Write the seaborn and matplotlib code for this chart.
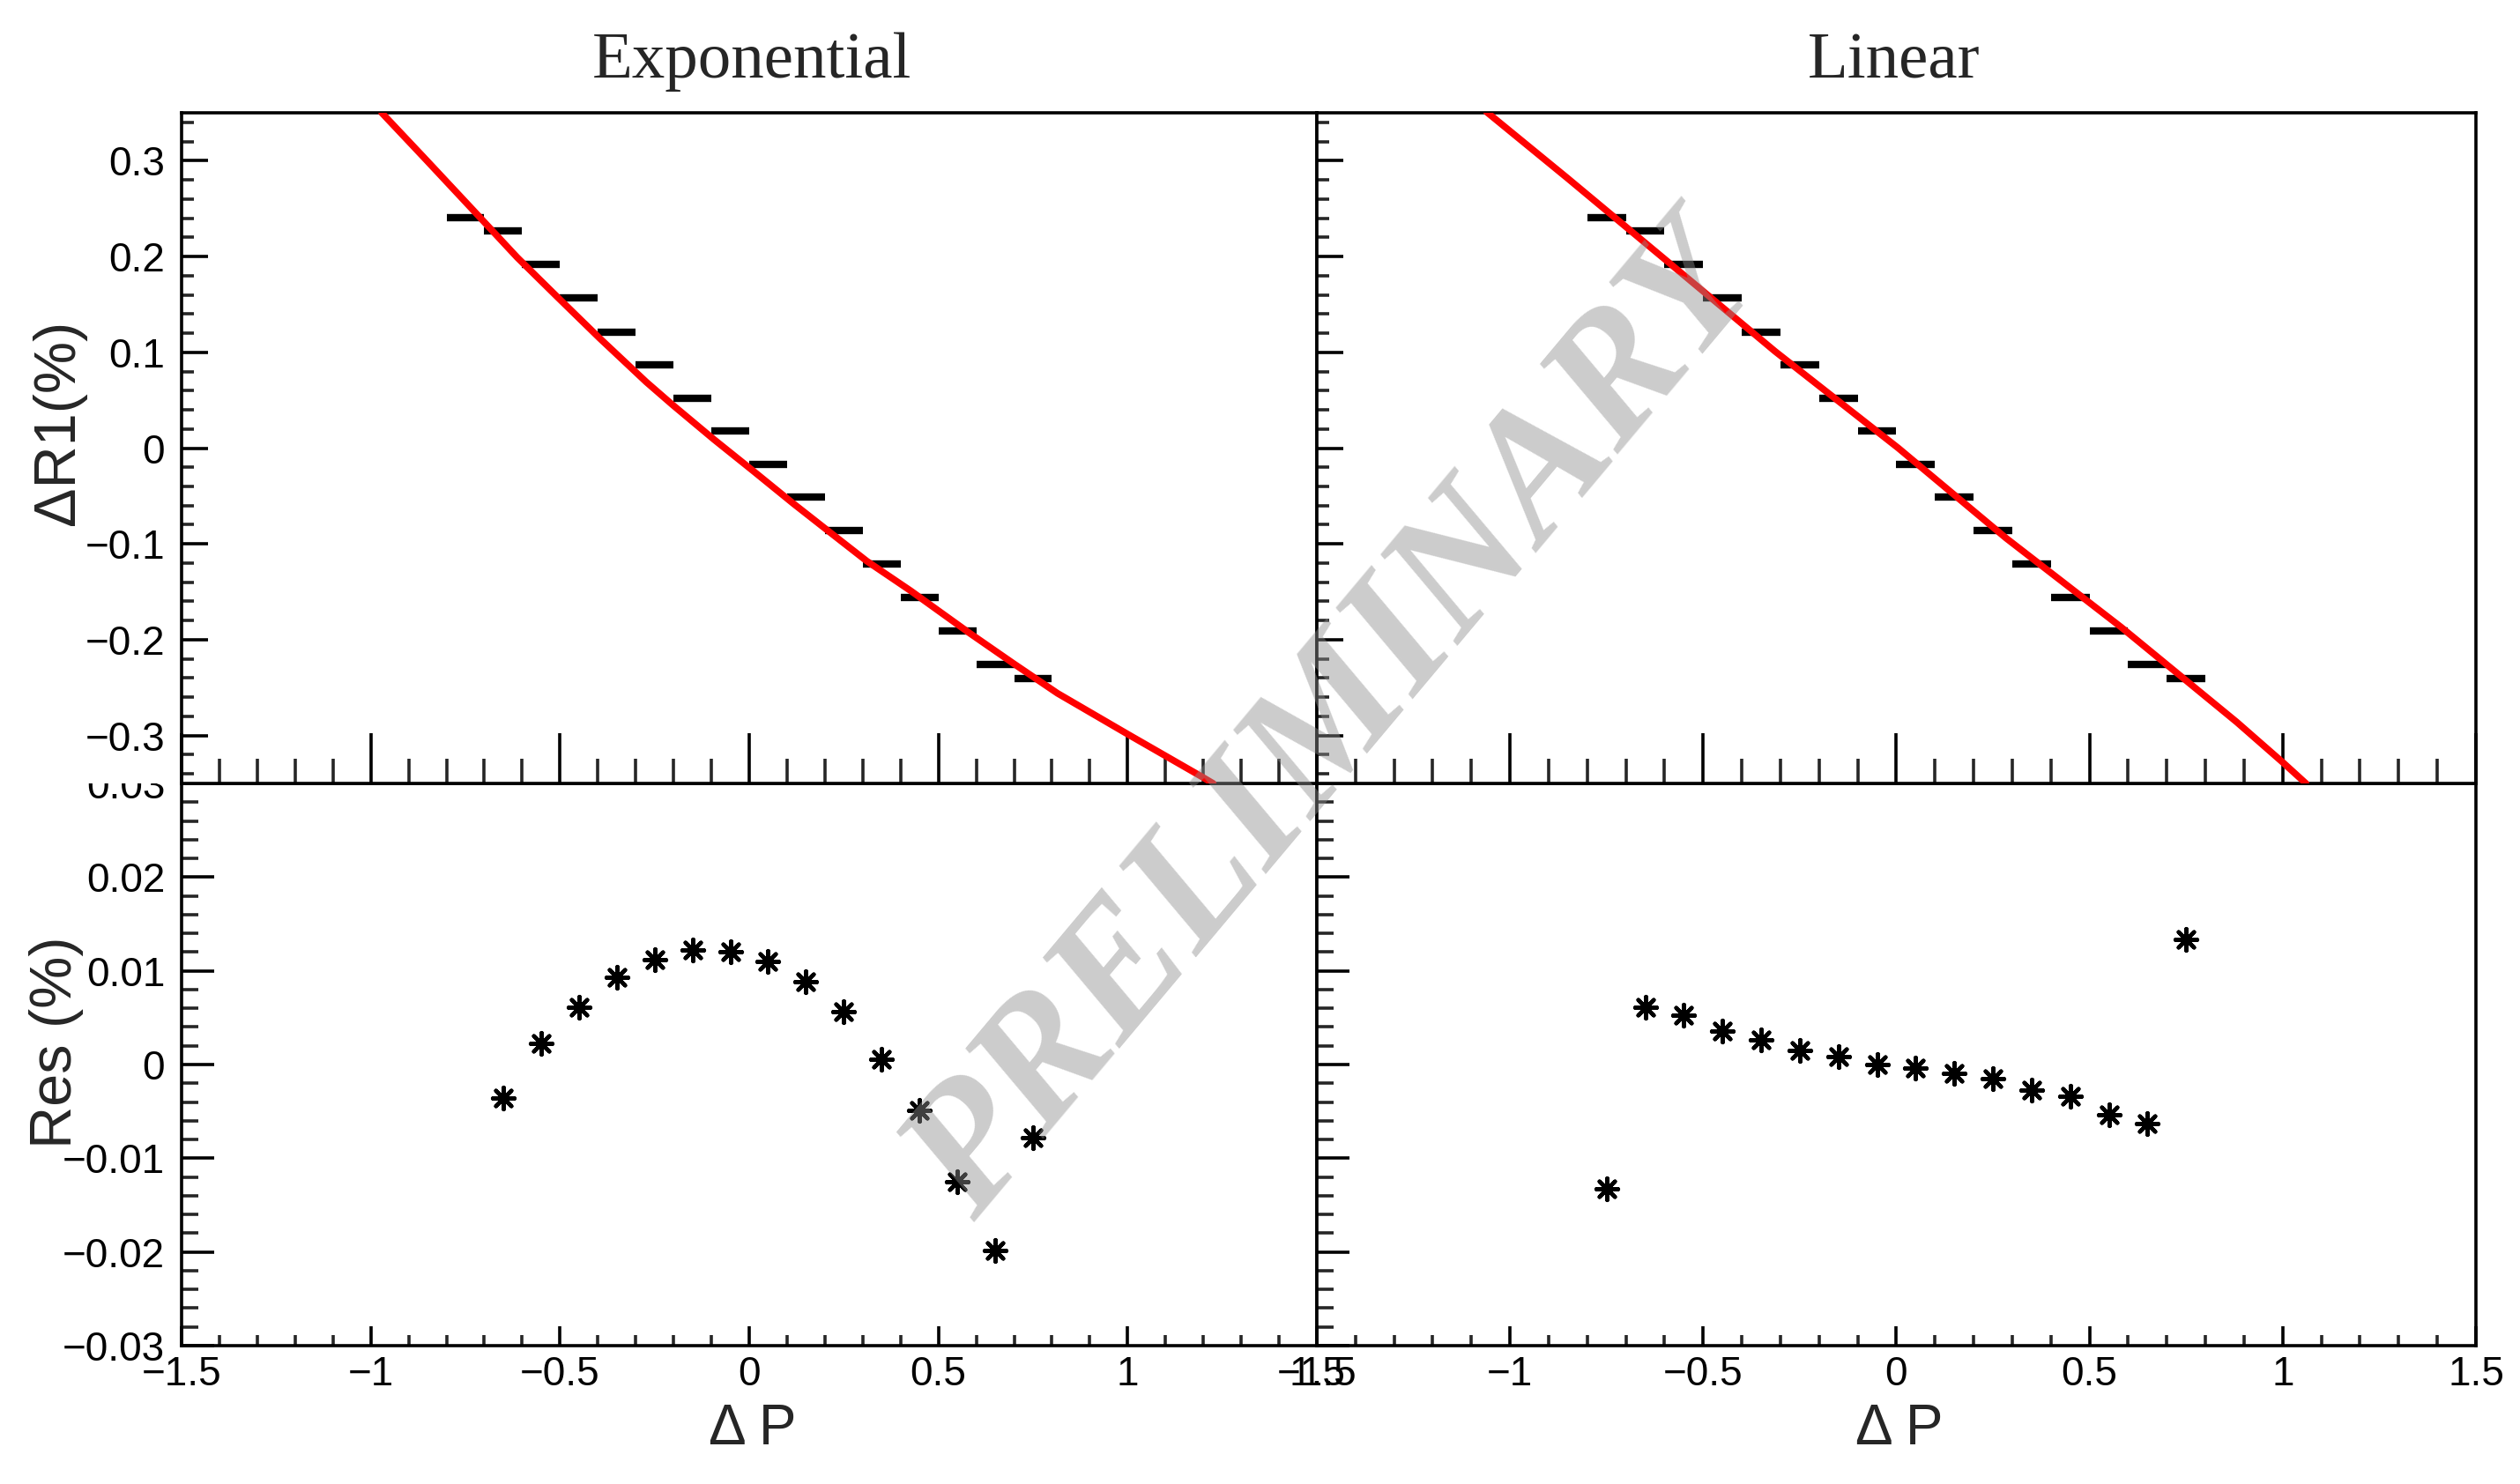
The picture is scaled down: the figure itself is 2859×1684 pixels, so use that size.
import numpy as np
import pandas as pd
import matplotlib
matplotlib.use("Agg")
import matplotlib.pyplot as plt
from matplotlib.patches import Rectangle
from matplotlib.ticker import MultipleLocator, FuncFormatter
import seaborn as sns

sns.set_theme(style="white")
plt.rcParams['font.family'] = ['Liberation Sans', 'DejaVu Sans']
plt.rcParams['axes.unicode_minus'] = True

# data points (bin centres in dP, measured dR1 in %)
dp_bins = [-0.75, -0.65, -0.55, -0.45, -0.35, -0.25, -0.15, -0.05,
           0.05, 0.15, 0.25, 0.35, 0.45, 0.55, 0.65, 0.75]
dr1 = [0.2408, 0.2264, 0.1915, 0.1565, 0.1207, 0.0866, 0.0520, 0.0177,
       -0.0172, -0.0515, -0.0862, -0.1208, -0.1557, -0.1905, -0.2259, -0.2401]

# fitted curves
exp_fit_x = [-0.971, -0.854, -0.738, -0.613, -0.505, -0.396, -0.272, -0.202,
             -0.093, 0.008, 0.117, 0.217, 0.311, 0.427, 0.582, 0.699, 0.815,
             1.002, 1.196, 1.226]
exp_fit_y = [0.350, 0.301, 0.252, 0.199, 0.157, 0.115, 0.069, 0.045,
             0.009, -0.023, -0.058, -0.089, -0.118, -0.149, -0.193, -0.225, -0.256,
             -0.299, -0.343, -0.350]
lin_fit_x = [-1.061, -0.852, -0.593, -0.314, 0.005, 0.284, 0.582, 0.881, 1.0, 1.06]
lin_fit_y = [0.351, 0.282, 0.195, 0.101, 0.000, -0.094, -0.187, -0.286, -0.328, -0.350]

# residuals
exp_res_x = dp_bins[1:]
exp_res = [-0.0036, 0.0023, 0.0061, 0.0093, 0.0112, 0.0122, 0.0120, 0.0110,
           0.0088, 0.0056, 0.0006, -0.0049, -0.0125, -0.0198, -0.0078]
lin_res_x = dp_bins
lin_res = [-0.0133, 0.0061, 0.0053, 0.0036, 0.0026, 0.0015, 0.0008, 0.0000,
           -0.0004, -0.0009, -0.0015, -0.0027, -0.0034, -0.0054, -0.0063, 0.0134]

titles = ["Exponential", "Linear"]

BIN_HALF = 0.05
LW = 2.6


def root_fmt(v, pos):
    if abs(v) < 1e-9:
        return "0"
    return ("%g" % round(v, 6)).replace("-", "\u2212")


def style_axes(ax, top):
    for sp in ax.spines.values():
        sp.set_visible(True)
        sp.set_color("black")
        sp.set_linewidth(LW)
    ax.set_xlim(-1.5, 1.5)
    ax.xaxis.set_major_locator(MultipleLocator(0.5))
    ax.xaxis.set_minor_locator(MultipleLocator(0.1))
    ax.xaxis.set_major_formatter(FuncFormatter(root_fmt))
    ax.yaxis.set_major_formatter(FuncFormatter(root_fmt))
    if top:
        ax.set_ylim(-0.35, 0.35)
        ax.yaxis.set_major_locator(MultipleLocator(0.1))
        ax.yaxis.set_minor_locator(MultipleLocator(0.02))
        xl, yl = (41, 20), (21.6, 10)
    else:
        ax.set_ylim(-0.03, 0.03)
        ax.yaxis.set_major_locator(MultipleLocator(0.01))
        ax.yaxis.set_minor_locator(MultipleLocator(0.002))
        xl, yl = (16, 8.5), (26.5, 13.5)
    ax.tick_params(axis="x", which="major", direction="in", length=xl[0], width=LW,
                   bottom=True, top=False, labelsize=33, pad=8, colors="black")
    ax.tick_params(axis="x", which="minor", direction="in", length=xl[1], width=LW,
                   bottom=True, top=False)
    ax.tick_params(axis="y", which="major", direction="in", length=yl[0], width=LW,
                   left=True, right=False, labelsize=33, pad=13.5, colors="black")
    ax.tick_params(axis="y", which="minor", direction="in", length=yl[1], width=LW,
                   left=True, right=False)
    ax.set_xlabel("")
    ax.set_ylabel("")
    ax.grid(False)


fig = plt.figure(figsize=(28.59, 16.84), dpi=100)
fig.patch.set_facecolor("white")

x_left, w_left = 0.07205, 0.45050
x_right, w_right = 0.52256, 0.45995
y_top, h_top = 0.47209, 0.45190
y_bot, h_bot = 0.09323, 0.37886

ax_bl = fig.add_axes([x_left, y_bot, w_left, h_bot], zorder=1)
ax_br = fig.add_axes([x_right, y_bot, w_right, h_bot], zorder=1)
ax_tl = fig.add_axes([x_left, y_top, w_left, h_top], zorder=2)
ax_tr = fig.add_axes([x_right, y_top, w_right, h_top], zorder=2)

# the upper pad is opaque over its left margin too (hides the top half of "0.03")
fig.add_artist(Rectangle((0, y_top), x_left, h_top, transform=fig.transFigure,
                         facecolor="white", edgecolor="none", zorder=1.5))

fits = [(exp_fit_x, exp_fit_y), (lin_fit_x, lin_fit_y)]
residuals = [(exp_res_x, exp_res), (lin_res_x, lin_res)]

for col, (ax_t, ax_b) in enumerate([(ax_tl, ax_bl), (ax_tr, ax_br)]):
    ax_t.set_facecolor("white")
    ax_b.set_facecolor("white")

    ax_t.errorbar(dp_bins, dr1, xerr=BIN_HALF, fmt="none", ecolor="black",
                  elinewidth=6, capsize=0, zorder=2)
    fx, fy = fits[col]
    fit_df = pd.DataFrame({"dp": fx, "dr": fy})
    sns.lineplot(data=fit_df, x="dp", y="dr", ax=ax_t, color="red", linewidth=5.5,
                 sort=False, estimator=None, zorder=3)

    rx, ry = residuals[col]
    res_df = pd.DataFrame({"dp": rx, "res": ry})
    sns.scatterplot(data=res_df, x="dp", y="res", ax=ax_b, marker=(8, 2, 0), s=320,
                    color="black", linewidth=3.2, zorder=3)

    style_axes(ax_t, True)
    style_axes(ax_b, False)
    ax_t.tick_params(axis="x", labelbottom=False)
    if col == 1:
        ax_t.tick_params(axis="y", labelleft=False)
        ax_b.tick_params(axis="y", labelleft=False)

# titles and axis labels
fig.text(0.2984, 0.9477, titles[0], family="Liberation Serif", fontsize=54,
         ha="center", va="baseline")
fig.text(0.7515, 0.9477, titles[1], family="Liberation Serif", fontsize=54,
         ha="center", va="baseline")
fig.text(0.0234, 0.7156, "\u0394R1(%)", fontsize=48, rotation=90, ha="center", va="center")
fig.text(0.0224, 0.2975, "Res (%)", fontsize=48, rotation=90, ha="center", va="center")
fig.text(0.2987, 0.0368, "\u0394 P", fontsize=46, ha="center", va="center")
fig.text(0.7538, 0.0368, "\u0394 P", fontsize=46, ha="center", va="center")

# watermark
fig.text(0.530, 0.512, "PRELIMINARY", family="Liberation Serif", style="italic",
         weight="bold", fontsize=146, rotation=50, rotation_mode="anchor",
         color="#8e8e8e", alpha=0.45, ha="center", va="center", zorder=10)

fig.savefig("out.png", dpi=100, facecolor="white")
